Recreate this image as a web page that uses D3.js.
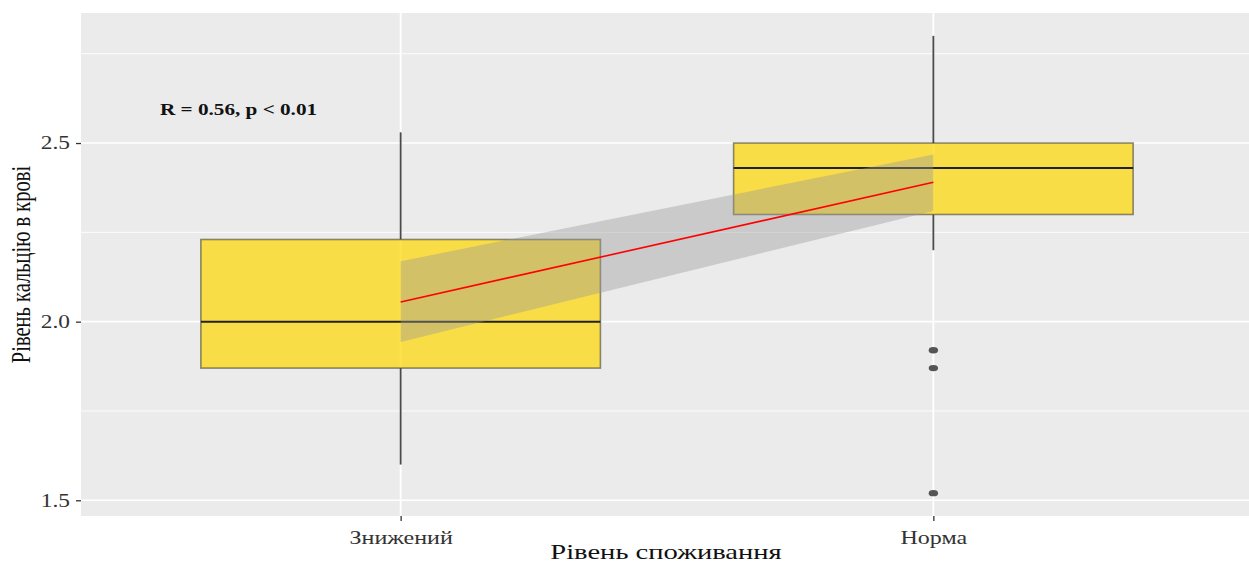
<!DOCTYPE html>
<html>
<head>
<meta charset="utf-8">
<script src="https://cdn.jsdelivr.net/npm/d3@7"></script>
<style>
  html, body { margin: 0; padding: 0; background: #fff; }
  svg { display: block; }
  text { font-family: "Liberation Serif", "Times New Roman", serif; }
</style>
</head>
<body>
<svg id="chart" width="1249" height="563"></svg>
<script>
// Calcium level by consumption level: box summaries
const categories = ["Знижений", "Норма"];
const whiskerLow  = [1.60, 2.20];
const q1          = [1.87, 2.30];
const median      = [2.00, 2.43];
const q3          = [2.23, 2.50];
const whiskerHigh = [2.53, 2.80];

// Outlying observations
const outlierCategory = ["Норма", "Норма", "Норма"];
const outlierValue    = [1.92, 1.87, 1.52];

// Linear fit with confidence band at each category
const fitValue = [2.055, 2.390];
const fitLower = [1.943, 2.310];
const fitUpper = [2.169, 2.468];

const yTicks      = [1.5, 2.0, 2.5];
const yTickLabels = ["1.5", "2.0", "2.5"];
const yMinorTicks = [1.75, 2.25, 2.75];

const annotation = "R = 0.56, p < 0.01";
const xTitle = "Рівень споживання";
const yTitle = "Рівень кальцію в крові";

// Horizontal stretch of the type
const sx = 1.3;

const svg = d3.select("#chart");
const panel = { left: 81, top: 13, right: 1253, bottom: 516 };

const allValues = [...whiskerLow, ...whiskerHigh, ...outlierValue];
const [vmin, vmax] = d3.extent(allValues);
const pad = (vmax - vmin) * 0.05;

const y = d3.scaleLinear()
  .domain([vmin - pad, vmax + pad])
  .range([panel.bottom, panel.top]);

const x = d3.scalePoint()
  .domain(categories)
  .range([panel.left, panel.right])
  .padding(0.6);

const boxW = x.step() * 0.75;

// Panel background
svg.append("rect")
  .attr("x", panel.left).attr("y", panel.top)
  .attr("width", panel.right - panel.left)
  .attr("height", panel.bottom - panel.top)
  .attr("fill", "#EBEBEB");

const grid = svg.append("g");
grid.selectAll("line.minor").data(yMinorTicks).join("line")
  .attr("class", "minor")
  .attr("x1", panel.left).attr("x2", panel.right)
  .attr("y1", d => y(d)).attr("y2", d => y(d))
  .attr("stroke", "#fff").attr("stroke-width", 0.9);
grid.selectAll("line.major").data(yTicks).join("line")
  .attr("class", "major")
  .attr("x1", panel.left).attr("x2", panel.right)
  .attr("y1", d => y(d)).attr("y2", d => y(d))
  .attr("stroke", "#fff").attr("stroke-width", 1.6);
grid.selectAll("line.vmajor").data(categories).join("line")
  .attr("class", "vmajor")
  .attr("y1", panel.top).attr("y2", panel.bottom)
  .attr("x1", d => x(d)).attr("x2", d => x(d))
  .attr("stroke", "#fff").attr("stroke-width", 1.8);

// Boxplots
const boxes = svg.append("g");
categories.forEach((c, i) => {
  const cx = x(c);
  const g = boxes.append("g");
  g.append("line")
    .attr("x1", cx).attr("x2", cx)
    .attr("y1", y(whiskerHigh[i])).attr("y2", y(q3[i]))
    .attr("stroke", "#4a4a4a").attr("stroke-width", 1.8);
  g.append("line")
    .attr("x1", cx).attr("x2", cx)
    .attr("y1", y(q1[i])).attr("y2", y(whiskerLow[i]))
    .attr("stroke", "#4a4a4a").attr("stroke-width", 1.8);
  g.append("rect")
    .attr("x", cx - boxW / 2).attr("width", boxW)
    .attr("y", y(q3[i])).attr("height", y(q1[i]) - y(q3[i]))
    .attr("fill", "#FFD700").attr("fill-opacity", 0.7)
    .attr("stroke", "#333").attr("stroke-opacity", 0.55)
    .attr("stroke-width", 1.6);
  g.append("line")
    .attr("x1", cx - boxW / 2).attr("x2", cx + boxW / 2)
    .attr("y1", y(median[i])).attr("y2", y(median[i]))
    .attr("stroke", "#222").attr("stroke-width", 2);
});

boxes.selectAll("ellipse").data(outlierValue).join("ellipse")
  .attr("cx", (d, i) => x(outlierCategory[i]))
  .attr("cy", d => y(d))
  .attr("rx", 3.6 * sx).attr("ry", 3.2)
  .attr("fill", "#555");

// Confidence band and fitted line
const band = categories.map((c, i) => ({ c, lo: fitLower[i], hi: fitUpper[i] }));
svg.append("path")
  .datum(band)
  .attr("d", d3.area().x(d => x(d.c)).y0(d => y(d.lo)).y1(d => y(d.hi)))
  .attr("fill", "#999999").attr("fill-opacity", 0.4);

svg.append("path")
  .datum(categories.map((c, i) => ({ c, v: fitValue[i] })))
  .attr("d", d3.line().x(d => x(d.c)).y(d => y(d.v)))
  .attr("fill", "none").attr("stroke", "red").attr("stroke-width", 1.6);

// Axes
const xAxis = svg.append("g")
  .attr("transform", `translate(0,${panel.bottom})`)
  .call(d3.axisBottom(x).tickSize(5).tickPadding(10));
xAxis.select(".domain").remove();
xAxis.selectAll(".tick line").attr("stroke", "#333").attr("stroke-width", 1.3);
xAxis.selectAll(".tick text")
  .attr("font-size", 18.5).attr("fill", "#333")
  .attr("font-family", "Liberation Serif")
  .attr("transform", `scale(${sx},1)`);

const yAxis = svg.append("g")
  .attr("transform", `translate(${panel.left},0)`)
  .call(d3.axisLeft(y).tickValues(yTicks).tickFormat((d, i) => yTickLabels[i]).tickSize(5));
yAxis.select(".domain").remove();
yAxis.selectAll(".tick line").attr("stroke", "#333").attr("stroke-width", 1.3);
yAxis.selectAll(".tick text")
  .attr("font-size", 18).attr("fill", "#333")
  .attr("font-family", "Liberation Serif")
  .attr("x", -11 / sx)
  .attr("transform", `scale(${sx},1)`);

// Titles
svg.append("text")
  .attr("transform", `translate(666,559) scale(${sx},1)`)
  .attr("text-anchor", "middle")
  .attr("font-size", 22)
  .attr("fill", "#111")
  .text(xTitle);

svg.append("text")
  .attr("transform", `translate(30,${(panel.top + panel.bottom) / 2}) scale(${sx},1) rotate(-90)`)
  .attr("text-anchor", "middle")
  .attr("font-size", 20.5)
  .attr("fill", "#111")
  .text(yTitle);

// Correlation annotation
svg.append("text")
  .attr("transform", `translate(160,115) scale(${sx},1)`)
  .attr("font-size", 16.3)
  .attr("font-weight", "bold")
  .attr("fill", "#111")
  .text(annotation);
</script>
</body>
</html>
